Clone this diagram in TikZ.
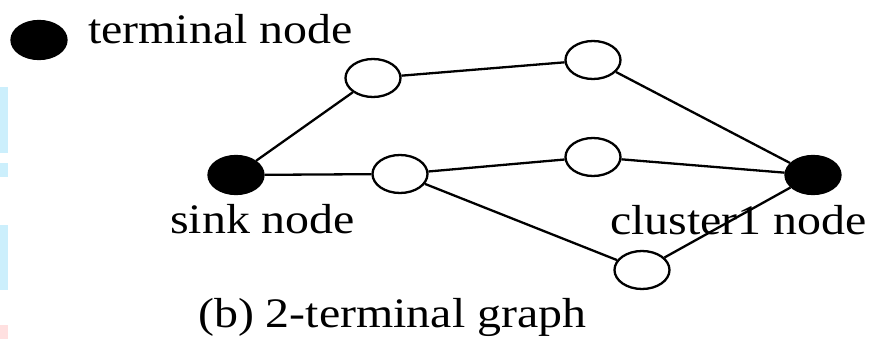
\documentclass[tikz,border=0pt]{standalone}
\usepackage{fontspec}
\setmainfont{Liberation Serif}
\usetikzlibrary{shapes.geometric}
\newcommand{\widetext}[1]{\scalebox{1.14}[1]{#1}}
\tikzset{
  gnode/.style={ellipse, draw=black, line width=2.3pt, minimum width=55pt, minimum height=38pt, inner sep=0pt},
  opennode/.style={gnode, fill=white},
  termnode/.style={gnode, fill=black},
  edge/.style={line width=2.3pt, draw=black},
  lbl/.style={anchor=base west, inner sep=0pt, font=\fontsize{42}{50}\selectfont},
  strip/.style={fill=#1, draw=none}
}
\begin{document}
\begin{tikzpicture}[x=1pt, y=-1pt]
  \useasboundingbox (0,0) rectangle (871,339);
  % coloured strips along the left margin
  \fill[strip={cyan!20}] (0,87) rectangle (8,153);
  \fill[strip={cyan!20}] (0,163) rectangle (8,177);
  \fill[strip={cyan!20}] (0,225) rectangle (8,290);
  \fill[strip={red!12}] (0,325) rectangle (8,339);

  % legend
  \node[termnode] (legend) at (39,40) {};
  \node[lbl] (legendtext) at (88,44) {\widetext{terminal node}};

  % graph nodes
  \node[termnode] (sink) at (236,175) {};
  \node[termnode] (cluster) at (813,175) {};
  \node[opennode] (tl) at (373,78) {};
  \node[opennode] (tr) at (593,60) {};
  \node[opennode] (m1) at (400,174) {};
  \node[opennode] (m2) at (593,157) {};
  \node[opennode] (bt) at (642,270) {};

  % connectors
  \draw[edge] (sink) -- (tl);
  \draw[edge] (tl) -- (tr);
  \draw[edge] (tr) -- (cluster);
  \draw[edge] (sink) -- (m1);
  \draw[edge] (m1) -- (m2);
  \draw[edge] (m2) -- (cluster);
  \draw[edge] (m1) -- (bt);
  \draw[edge] (bt) -- (cluster);

  % labels
  \node[lbl] (sinklbl) at (170,234) {\widetext{sink node}};
  \node[lbl] (clusterlbl) at (610,235) {\widetext{cluster1 node}};
  \node[lbl] (caption) at (198,327) {\widetext{(b) 2-terminal graph}};
\end{tikzpicture}
\end{document}
